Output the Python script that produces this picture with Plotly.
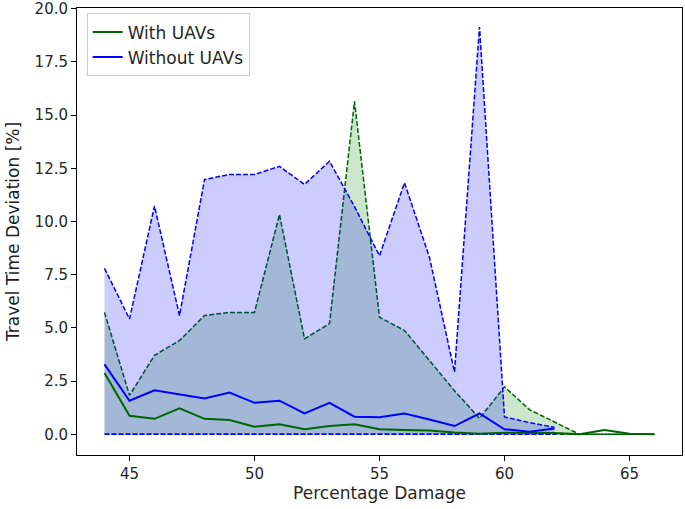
import plotly.graph_objects as go

# percentage damage (x)
damage_with = list(range(44, 67))
damage_without = list(range(44, 63))

# With UAVs: median and upper band (lower band is zero)
with_median = [2.88, 0.87, 0.73, 1.22, 0.73, 0.67, 0.36, 0.47, 0.24, 0.39, 0.47, 0.24,
               0.20, 0.18, 0.09, 0.03, 0.08, 0.06, 0.06, 0.0, 0.20, 0.03, 0.0]
with_upper = [5.73, 1.83, 3.71, 4.41, 5.58, 5.73, 5.73, 10.33, 4.49, 5.20, 15.64, 5.50,
              4.88, 3.45, 2.05, 0.75, 2.23, 1.16, 0.59, 0.0, 0.0, 0.0, 0.0]
with_lower = [0.0] * len(damage_with)

# Without UAVs
without_median = [3.29, 1.58, 2.07, 1.89, 1.69, 1.96, 1.48, 1.58, 0.98, 1.48, 0.83, 0.80,
                  0.98, 0.70, 0.39, 0.98, 0.24, 0.12, 0.28]
without_upper = [7.80, 5.42, 10.73, 5.58, 11.97, 12.21, 12.21, 12.59, 11.74, 12.83, 10.70, 8.39,
                 11.82, 8.31, 2.93, 19.14, 0.82, 0.55, 0.33]
without_lower = [0.0] * len(damage_without)

GREEN = "#006400"
BLUE = "#0000ff"

fig = go.Figure()

# bands (lower dashed, upper dashed + fill)
fig.add_trace(go.Scatter(x=damage_with, y=with_lower, mode="lines", showlegend=False,
                         line=dict(color=GREEN, width=1.5, dash="5px,2px")))
fig.add_trace(go.Scatter(x=damage_with, y=with_upper, mode="lines", showlegend=False,
                         fill="tonexty", fillcolor="rgba(0,128,0,0.2)",
                         line=dict(color=GREEN, width=1.5, dash="5px,2px")))
fig.add_trace(go.Scatter(x=damage_without, y=without_lower, mode="lines", showlegend=False,
                         line=dict(color=BLUE, width=1.5, dash="5px,2px")))
fig.add_trace(go.Scatter(x=damage_without, y=without_upper, mode="lines", showlegend=False,
                         fill="tonexty", fillcolor="rgba(0,0,255,0.2)",
                         line=dict(color=BLUE, width=1.5, dash="5px,2px")))

# medians
fig.add_trace(go.Scatter(x=damage_with, y=with_median, mode="lines", name="With UAVs",
                         line=dict(color=GREEN, width=2)))
fig.add_trace(go.Scatter(x=damage_without, y=without_median, mode="lines", name="Without UAVs",
                         line=dict(color=BLUE, width=2)))

axis_style = dict(showline=True, linecolor="black", linewidth=1, mirror=True,
                  ticks="outside", ticklen=5, tickcolor="black", showgrid=False,
                  zeroline=False, automargin=False, ticklabeloverflow="allow",
                  tickfont=dict(size=15, color="#262626"))

fig.update_layout(
    width=685, height=509,
    margin=dict(l=77, r=3, t=8, b=54),
    plot_bgcolor="white", paper_bgcolor="white",
    font=dict(family="DejaVu Sans", color="#262626"),
    legend=dict(x=0.016, y=0.988, xanchor="left", yanchor="top", traceorder="normal",
                bordercolor="#cccccc", borderwidth=1, bgcolor="rgba(255,255,255,0.8)",
                font=dict(size=17), tracegroupgap=0),
    xaxis=dict(range=[42.9, 67.1], tickvals=[45, 50, 55, 60, 65],
               title=dict(text="Percentage Damage", font=dict(size=17), standoff=4),
               **axis_style),
    yaxis=dict(range=[-0.97, 20.03], tickvals=[0, 2.5, 5, 7.5, 10, 12.5, 15, 17.5, 20],
               tickformat=".1f",
               title=dict(text="Travel Time Deviation [%]", font=dict(size=17, color="#1a1a2a"),
                          standoff=10),
               **axis_style),
)

# page body has a default 8px margin; drop it so the figure sits at 0,0
fig.write_html("out.html", config={"displayModeBar": False},
               post_script="document.body.style.margin='0';")
